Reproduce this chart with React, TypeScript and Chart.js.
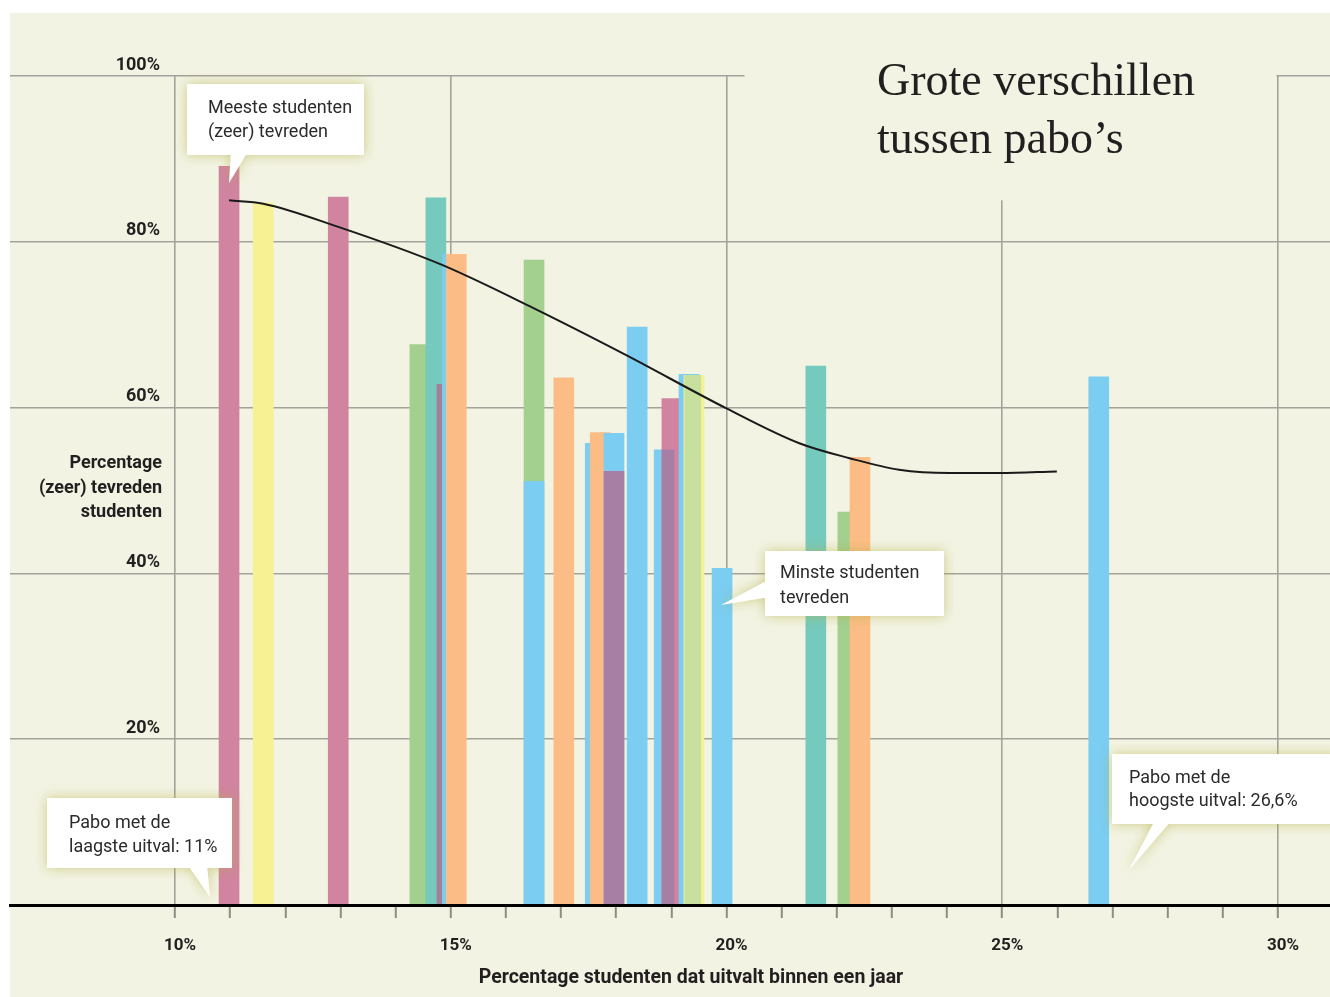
import React, { useEffect, useRef } from 'react';
import { Chart, registerables } from 'chart.js';

Chart.register(...registerables);

// Colours
const PINK = '#d0849f';
const YELLOW = '#f8f193';
const TEAL = '#76c9bd';
const GREEN = '#a3cf8f';
const ORANGE = '#fbbd85';
const BLUE = '#7bcdf1';
const PURPLE = '#a77fa5';
const MAUVE = '#a47f9a';
const LIME = '#c8e09e';
const CREAM = '#f2f3e2';
const GRID = '#a3a39b';
const INK = '#231f20';

// Data: uitval (%) en percentage (zeer) tevreden per pabo, in tekenvolgorde
const dropoutRates = [10.98, 11.6, 12.96, 14.44, 14.73, 14.93, 15.03, 15.1, 16.51, 16.51, 17.05, 17.62, 17.71, 17.96, 17.96, 18.38, 18.87, 19.01, 19.32, 19.41, 19.92, 21.62, 22.2, 22.42, 26.75];
const satisfied = [89.1, 84.7, 85.4, 67.6, 85.3, 62.8, 78.5, 78.5, 77.8, 51.1, 63.6, 55.7, 57.0, 56.9, 52.3, 69.7, 54.9, 61.1, 64.0, 63.9, 40.6, 65.0, 47.4, 54.0, 63.7];
const barColors = [PINK, YELLOW, PINK, GREEN, TEAL, MAUVE, BLUE, ORANGE, GREEN, BLUE, ORANGE, BLUE, ORANGE, BLUE, PURPLE, BLUE, BLUE, PINK, BLUE, YELLOW, BLUE, TEAL, GREEN, ORANGE, BLUE];

// Overlap pieces where two bars are blended
const overlapPurpleX = [18.94];
const overlapPurpleY = [54.9];
const overlapLimeX = [19.39];
const overlapLimeY = [63.9];

// Trend line
const trendX = [10.98, 11.6, 12.96, 14.81, 16.5, 18.19, 20.0, 21.32, 22.23, 23.13, 24.04, 24.95, 25.99];
const trendY = [85.0, 84.6, 81.8, 77.3, 72.0, 66.3, 59.9, 55.7, 53.9, 52.5, 52.1, 52.1, 52.3];

const yTicks = [20, 40, 60, 80, 100];
const xLabelled = [10, 15, 20, 25, 30];

const TITLE = ['Grote verschillen', 'tussen pabo\u2019s'];
const Y_TITLE = ['Percentage', '(zeer) tevreden', 'studenten'];
const X_TITLE = 'Percentage studenten dat uitvalt binnen een jaar';
const NOTE_TOP = ['Meeste studenten', '(zeer) tevreden'];
const NOTE_LOW = ['Minste studenten', 'tevreden'];
const NOTE_MIN = ['Pabo met de', 'laagste uitval: 11%'];
const NOTE_MAX = ['Pabo met de', 'hoogste uitval: 26,6%'];

const FONT = 'Roboto';

type Pt = [number, number];

function drawCallout(ctx: CanvasRenderingContext2D, rect: [number, number, number, number], tri: [Pt, Pt, Pt], lines: string[], tx: number, ty: number, lh: number) {
  ctx.save();
  ctx.shadowColor = 'rgba(180,176,70,0.6)';
  ctx.shadowBlur = 12;
  ctx.fillStyle = '#ffffff';
  ctx.beginPath();
  ctx.rect(rect[0], rect[1], rect[2], rect[3]);
  ctx.moveTo(tri[0][0], tri[0][1]);
  ctx.lineTo(tri[1][0], tri[1][1]);
  ctx.lineTo(tri[2][0], tri[2][1]);
  ctx.closePath();
  ctx.fill();
  ctx.restore();
  ctx.save();
  ctx.fillStyle = '#2b2b2b';
  ctx.font = `18px ${FONT}`;
  ctx.textAlign = 'left';
  ctx.textBaseline = 'alphabetic';
  lines.forEach((l, i) => ctx.fillText(l, tx, ty + i * lh));
  ctx.restore();
}

const decorPlugin = {
  id: 'decor',
  beforeDraw(chart: any) {
    const ctx = chart.ctx;
    ctx.save();
    ctx.fillStyle = '#ffffff';
    ctx.fillRect(0, 0, chart.width, chart.height);
    ctx.fillStyle = CREAM;
    ctx.fillRect(10, 13, chart.width - 10, chart.height - 13);
    ctx.restore();
  },
  beforeDatasetsDraw(chart: any) {
    const ctx = chart.ctx;
    const x = chart.scales.x;
    const y = chart.scales.y;
    ctx.save();
    ctx.fillStyle = CREAM;
    const left = x.getPixelForValue(20) + 18;
    const right = x.getPixelForValue(30) - 1.5;
    ctx.fillRect(left, 20, right - left, y.getPixelForValue(85) - 20);
    ctx.fillStyle = INK;
    ctx.font = '46px "Liberation Serif"';
    ctx.textBaseline = 'alphabetic';
    ctx.textAlign = 'left';
    ctx.fillText(TITLE[0], 877, 95);
    ctx.fillText(TITLE[1], 877, 153);
    ctx.restore();
  },
  afterDraw(chart: any) {
    const ctx = chart.ctx;
    ctx.save();
    ctx.fillStyle = INK;
    ctx.font = `bold 18px ${FONT}`;
    ctx.textAlign = 'right';
    ctx.textBaseline = 'alphabetic';
    Y_TITLE.forEach((l, i) => ctx.fillText(l, 162, 468 + i * 24.5));
    ctx.font = `bold 19.5px ${FONT}`;
    ctx.textAlign = 'center';
    ctx.fillText(X_TITLE, 691, 983);
    ctx.restore();

    drawCallout(ctx, [187, 84, 177, 71], [[231, 150], [249, 150], [229, 183]], NOTE_TOP, 208, 113, 24);
    drawCallout(ctx, [765, 551, 179, 65], [[770, 579], [770, 597], [721, 605]], NOTE_LOW, 780, 578, 24.5);
    drawCallout(ctx, [47, 798, 185, 70], [[187, 864], [207, 864], [210, 897]], NOTE_MIN, 69, 828, 23.5);
    drawCallout(ctx, [1112, 754, 230, 70], [[1155, 820], [1172, 820], [1129, 870]], NOTE_MAX, 1129, 783, 23);
  },
};

const isWhole = (v: number) => Math.abs(v - Math.round(v)) < 1e-6;

export default function App() {
  const ref = useRef<HTMLCanvasElement>(null);
  useEffect(() => {
    if (!ref.current) return;
    Chart.defaults.font.family = FONT;
    const chart = new Chart(ref.current, {
      type: 'bar',
      data: {
        datasets: [
          {
            type: 'line',
            data: trendX.map((x, i) => ({ x, y: trendY[i] })),
            borderColor: '#1a1a1a',
            borderWidth: 2,
            pointRadius: 0,
            cubicInterpolationMode: 'monotone',
            fill: false,
            order: 0,
          } as any,
          {
            type: 'bar',
            data: overlapPurpleX.map((x, i) => ({ x, y: overlapPurpleY[i] })),
            backgroundColor: PURPLE,
            barThickness: 12,
            grouped: false,
            borderWidth: 0,
            order: 1,
          },
          {
            type: 'bar',
            data: overlapLimeX.map((x, i) => ({ x, y: overlapLimeY[i] })),
            backgroundColor: LIME,
            barThickness: 16,
            grouped: false,
            borderWidth: 0,
            order: 1,
          },
          {
            type: 'bar',
            data: dropoutRates.map((x, i) => ({ x, y: satisfied[i] })),
            backgroundColor: barColors,
            barThickness: 20,
            grouped: false,
            borderWidth: 0,
            order: 2,
          },
        ],
      },
      options: {
        animation: false,
        responsive: false,
        devicePixelRatio: 1,
        events: [],
        layout: { padding: { top: 76, left: 10, right: 0, bottom: 0 } },
        plugins: { legend: { display: false }, tooltip: { enabled: false } },
        scales: {
          x: {
            type: 'linear',
            min: 7.008,
            max: 30.943,
            offset: false,
            afterFit: (s: any) => { s.height = 92; },
            grid: {
              offset: false,
              drawOnChartArea: true,
              color: (c: any) => (c.tick && isWhole(c.tick.value) && Math.round(c.tick.value) % 5 === 0 && c.tick.value >= 10 ? GRID : 'rgba(0,0,0,0)'),
              lineWidth: 1.6,
              tickLength: 13,
              tickWidth: 2,
              tickColor: (c: any) => (c.tick && c.tick.value >= 9.99 && c.tick.value <= 30.01 ? '#8d8d86' : 'rgba(0,0,0,0)'),
            },
            border: { display: true, color: '#000000', width: 3, z: 1 },
            ticks: {
              stepSize: 1,
              includeBounds: false,
              autoSkip: false,
              maxRotation: 0,
              padding: 18,
              labelOffset: 5,
              color: INK,
              font: { family: FONT, weight: 'bold', size: 17 },
              callback: (v: any) => {
                const n = Number(v);
                return isWhole(n) && xLabelled.includes(Math.round(n)) ? `${Math.round(n)}%` : '';
              },
            },
          },
          y: {
            type: 'linear',
            min: 0,
            max: 100,
            stacked: false,
            position: { x: 9.728 } as any,
            afterFit: (s: any) => { s.width = 0; },
            grid: {
              drawTicks: false,
              lineWidth: 1.6,
              color: (c: any) => (c.tick && c.tick.value > 0 ? GRID : 'rgba(0,0,0,0)'),
            },
            border: { display: false },
            ticks: {
              stepSize: 20,
              padding: 0,
              labelOffset: -11,
              color: INK,
              font: { family: FONT, weight: 'bold', size: 18 },
              callback: (v: any) => (yTicks.includes(Number(v)) ? `${v}%` : ''),
            },
          },
        },
      },
      plugins: [decorPlugin],
    });
    return () => chart.destroy();
  }, []);

  return (
    <div style={{ position: 'fixed', left: 0, top: 0, width: 1330, height: 997 }}>
      <canvas ref={ref} width={1330} height={997} style={{ display: 'block' }} />
    </div>
  );
}
